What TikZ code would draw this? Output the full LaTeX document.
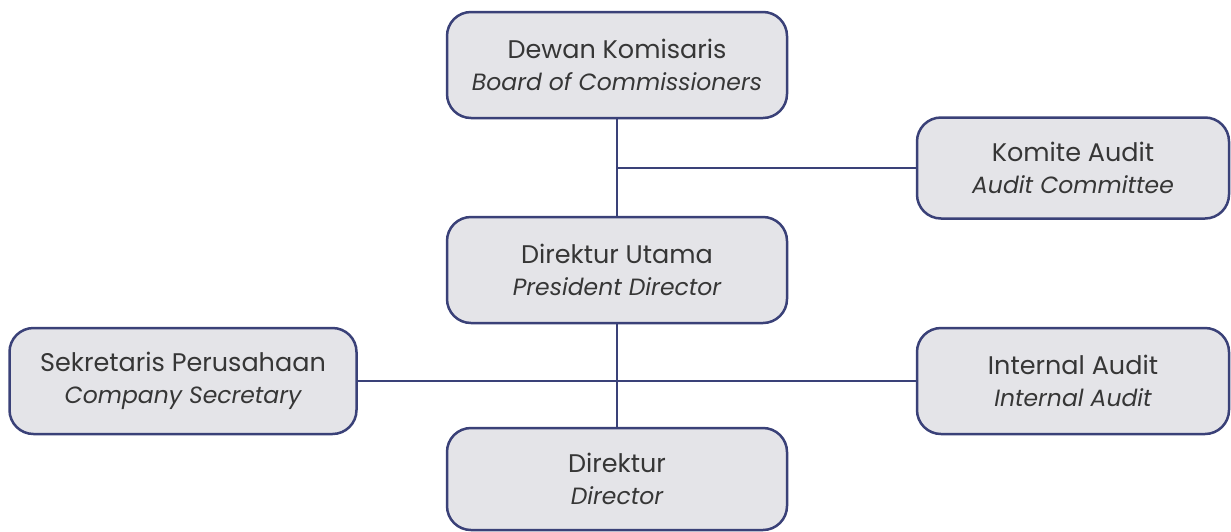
\documentclass[tikz,border=0pt]{standalone}
\usepackage{fontspec}
\setmainfont{Poppins}
\definecolor{bordc}{HTML}{3A4178}
\definecolor{boxfill}{HTML}{E4E4E8}
\definecolor{txt}{HTML}{363636}
\newcommand{\en}[1]{{\fontsize{23.5}{32}\selectfont\itshape #1}}
\begin{document}
\begin{tikzpicture}[x=1pt,y=-1pt,
  box/.style={draw=bordc,fill=boxfill,line width=2.5pt,rounded corners=24pt,
    inner sep=0pt,align=center,text=txt,font=\fontsize{25.5}{32}\selectfont},
  link/.style={draw=bordc,line width=2.5pt}]
\useasboundingbox[fill=white] (0,0) rectangle (1231,531);
\node[box,minimum width=340pt,minimum height=106pt] (dk) at (617,65) {Dewan Komisaris\\\en{Board of Commissioners}};
\node[box,minimum width=312pt,minimum height=101pt] (ka) at (1073,168) {Komite Audit\\\en{Audit Committee}};
\node[box,minimum width=340pt,minimum height=106pt] (du) at (617,270) {Direktur Utama\\\en{President Director}};
\node[box,minimum width=347pt,minimum height=106pt] (sp) at (183,381) {Sekretaris Perusahaan\\\en{Company Secretary}};
\node[box,minimum width=312pt,minimum height=106pt] (ia) at (1073,381) {Internal Audit\\\en{Internal Audit}};
\node[box,minimum width=340pt,minimum height=102pt] (dr) at (617,479) {Direktur\\\en{Director}};
\coordinate (j1) at (dk.south |- ka.west);
\coordinate (j2) at (du.south |- sp.east);
\draw[link] (dk.south) -- (du.north);
\draw[link] (j1) -- (ka.west);
\draw[link] (du.south) -- (dr.north);
\draw[link] (sp.east) -- (ia.west);
\end{tikzpicture}
\end{document}
